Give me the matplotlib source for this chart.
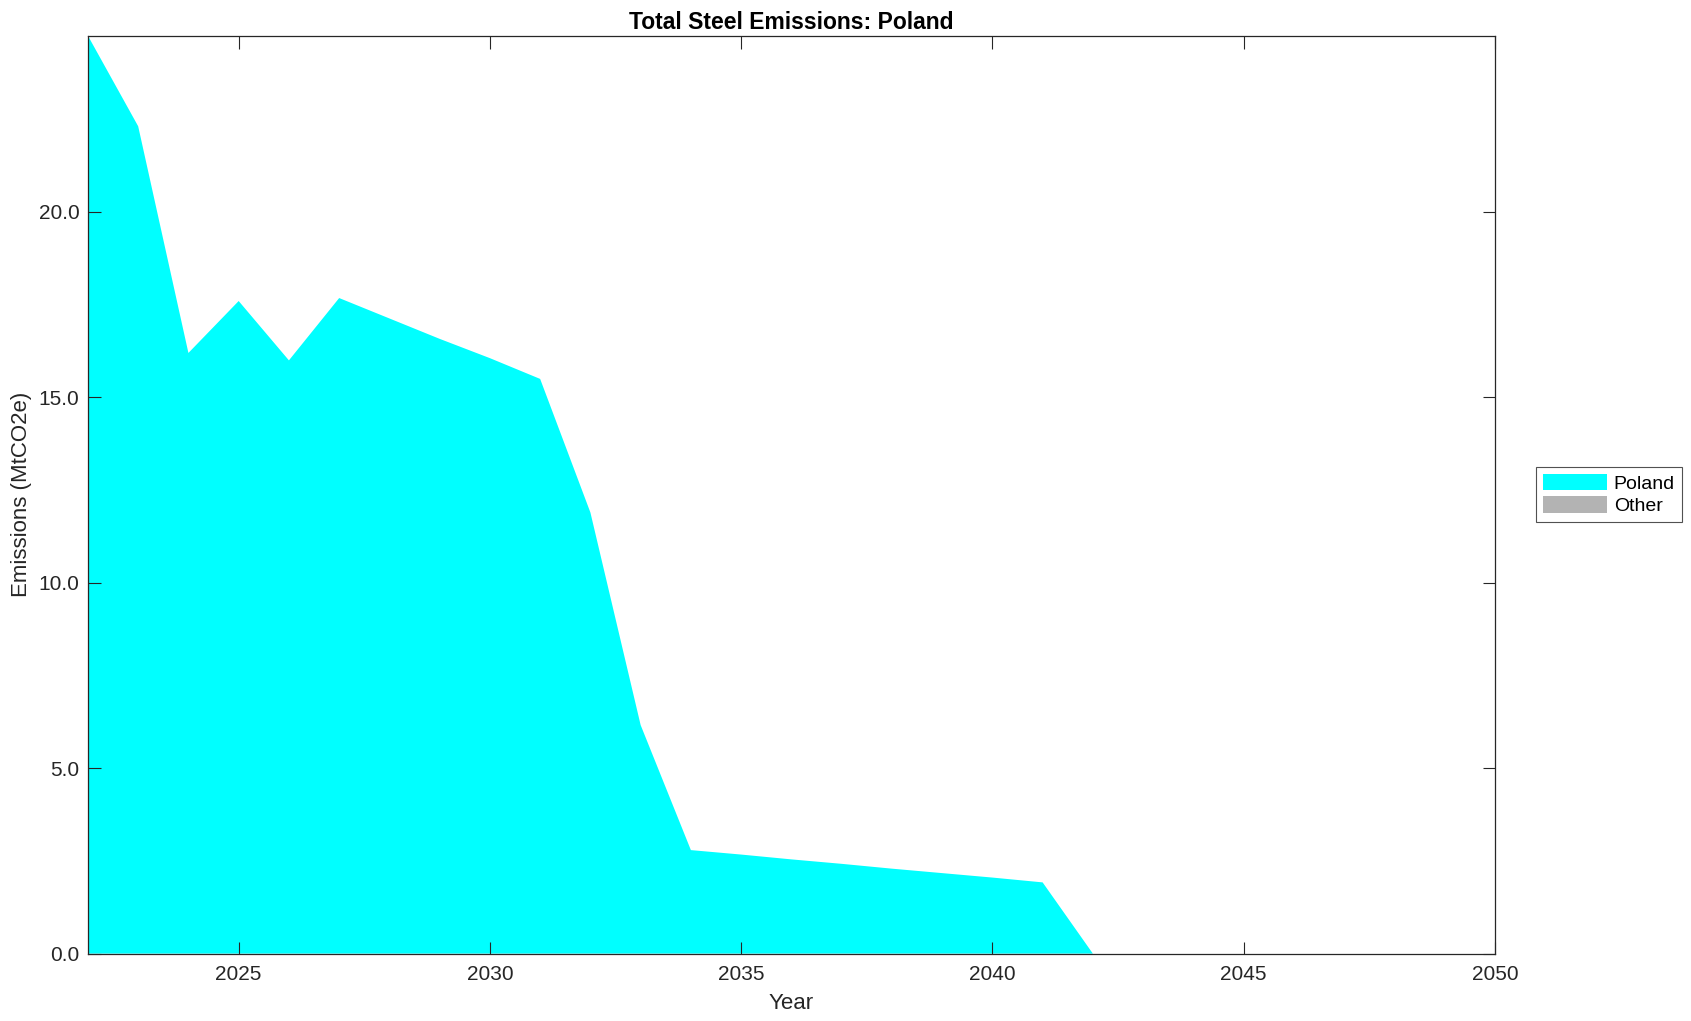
import numpy as np
import matplotlib.pyplot as plt
from matplotlib.ticker import FormatStrFormatter

plt.rcParams['font.family'] = ['Liberation Sans', 'DejaVu Sans']

years = list(range(2022, 2051))
poland = [24.74, 22.30, 16.19, 17.59, 15.99, 17.67, 17.12, 16.57, 16.05, 15.49,
          11.89, 6.16, 2.79, 2.67, 2.54, 2.42, 2.29, 2.17, 2.05, 1.92,
          0.0, 0.0, 0.0, 0.0, 0.0, 0.0, 0.0, 0.0, 0.0]
other = [0.0] * len(years)

fig = plt.figure(figsize=(16.91, 10.21), dpi=100)
ax = fig.add_axes([0.052, 0.066, 0.832, 0.899])

ax.stackplot(years, poland, other, colors=['#00ffff', '#b3b3b3'],
             labels=['Poland', 'Other'], linewidth=0)

ax.set_xlim(2022, 2050)
ax.set_ylim(0, max(poland))
ax.set_xticks([2025, 2030, 2035, 2040, 2045, 2050])
ax.set_yticks([0, 5, 10, 15, 20])
ax.yaxis.set_major_formatter(FormatStrFormatter('%.1f'))

ax.tick_params(direction='in', top=True, right=True, length=9, width=0.8,
               labelsize=15, labelcolor='#262626', color='#262626')
ax.tick_params(axis='x', pad=8)
ax.tick_params(axis='y', pad=6)
for s in ax.spines.values():
    s.set_linewidth(0.9)
    s.set_color('#262626')
    s.set_zorder(5)

ax.set_title('Total Steel Emissions: Poland', fontsize=16.5, fontweight='bold', pad=5)
ax.set_xlabel('Year', fontsize=16, color='#262626', labelpad=7)
ax.set_ylabel('Emissions (MtCO2e)', fontsize=16, color='#262626', labelpad=5)

leg = fig.legend(loc='center left', bbox_to_anchor=(0.9083, 0.5157), fontsize=14,
                 frameon=True, fancybox=False, edgecolor='#262626',
                 handlelength=3.3, handleheight=0.9, borderpad=0.35,
                 labelspacing=0.2, handletextpad=0.35, borderaxespad=0)
leg.get_frame().set_linewidth(0.8)

fig.savefig('out.png', dpi=100)
